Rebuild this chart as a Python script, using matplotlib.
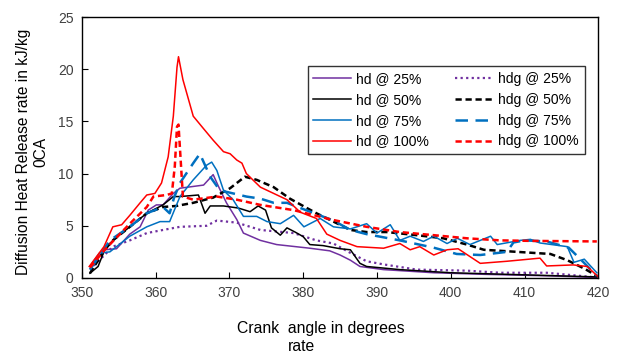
import numpy as np
import matplotlib
matplotlib.use("Agg")
import matplotlib.pyplot as plt

# values (crank angle, kJ/kg)
hd25_x = [351.1, 353.1, 354.7, 356.5, 357.9, 359.0, 360.1, 361.0, 362.4, 363.3, 366.5, 367.8, 368.5,
          369.6, 371.0, 371.9, 374.2, 376.4, 380.9, 383.6, 385.0, 386.4, 387.7, 390.9, 397.7, 404.5,
          413.5, 419.8]
hd25_y = [1.1, 2.7, 2.8, 4.2, 4.9, 6.5, 7.0, 7.0, 8.1, 8.6, 8.9, 9.9, 8.8,
          7.2, 5.6, 4.3, 3.6, 3.2, 2.85, 2.6, 2.2, 1.7, 1.1, 0.8, 0.5, 0.35,
          0.2, 0.05]

hdg25_x = [351.1, 354.2, 356.5, 358.8, 361.0, 363.3, 366.9, 368.3, 371.0, 374.2, 378.7, 381.8,
           384.1, 386.4, 388.6, 390.9, 395.4, 402.2, 406.7, 413.0, 419.8]
hdg25_y = [0.8, 3.0, 3.6, 4.3, 4.6, 4.9, 5.0, 5.5, 5.3, 4.6, 4.3, 3.6,
           3.3, 2.4, 1.6, 1.3, 0.8, 0.7, 0.5, 0.5, 0.05]

hd50_x = [351.1, 352.2, 353.1, 354.2, 356.5, 358.8, 361.0, 362.4, 363.3, 365.8, 366.7, 367.4,
          369.2, 371.2, 372.8, 373.9, 374.9, 375.7, 376.9, 377.8, 378.9, 380.0, 380.9, 382.7,
          385.0, 386.4, 387.7, 388.6, 393.1, 400.0, 410.0, 419.8]
hd50_y = [0.45, 1.1, 2.7, 3.6, 4.9, 6.2, 7.0, 7.8, 7.8, 7.95, 6.2, 6.9,
          6.9, 6.7, 6.35, 6.9, 6.5, 4.8, 4.1, 4.8, 4.4, 3.96, 3.2, 3.1,
          2.8, 2.7, 1.4, 1.1, 0.8, 0.5, 0.3, 0.1]

hdg50_x = [351.1, 353.1, 354.2, 356.5, 358.8, 361.0, 362.8, 365.1, 367.8, 370.1, 372.1, 373.7,
           376.0, 378.2, 380.5, 381.8, 384.1, 386.4, 388.6, 391.3, 395.4, 399.0, 402.2, 404.5,
           409.0, 413.5, 415.8, 418.1, 419.8]
hdg50_y = [0.45, 2.7, 3.6, 4.9, 6.2, 6.8, 6.9, 7.2, 7.7, 8.6, 9.7, 9.4,
           8.7, 7.6, 6.7, 6.2, 5.4, 4.6, 4.4, 4.4, 4.1, 3.8, 3.2, 2.7,
           2.5, 2.3, 1.7, 0.9, 0.2]

hd75_x = [351.1, 352.4, 353.8, 356.5, 358.8, 360.6, 361.9, 363.3, 365.1, 366.9, 367.6, 368.3,
          369.2, 370.5, 371.9, 373.7, 375.1, 376.9, 378.7, 380.1, 382.3, 384.1, 386.4, 388.6,
          390.0, 391.8, 393.1, 394.5, 396.3, 397.7, 399.5, 400.9, 402.6, 405.4, 406.3, 409.4,
          410.8, 412.1, 415.8, 416.7, 418.1, 419.8]
hd75_y = [1.1, 2.4, 2.5, 4.0, 4.9, 5.4, 5.4, 7.8, 9.4, 10.8, 11.1, 10.3,
          8.4, 7.5, 5.9, 5.9, 5.4, 5.2, 6.0, 4.9, 5.7, 4.9, 4.7, 5.2,
          4.3, 5.1, 3.6, 4.0, 3.5, 4.0, 3.3, 3.8, 3.2, 4.0, 3.2, 3.6,
          3.7, 3.35, 3.0, 1.5, 1.8, 0.5]

hdg75_x = [351.1, 353.8, 356.5, 358.8, 361.0, 361.9, 362.5, 363.3, 365.1, 366.0, 367.4, 368.7,
           370.5, 372.3, 374.2, 376.0, 377.8, 380.0, 384.1, 386.4, 388.6, 393.1, 397.7, 400.8,
           404.0, 407.6, 408.5, 410.0, 413.0, 416.0, 418.0, 419.8]
hdg75_y = [0.8, 3.6, 4.9, 6.2, 6.8, 6.2, 7.7, 9.1, 11.0, 11.9, 9.7, 8.4,
           8.1, 7.8, 7.6, 7.2, 7.2, 6.6, 5.5, 4.6, 4.2, 3.6, 2.9, 2.3,
           2.2, 2.5, 3.4, 3.6, 3.5, 2.9, 1.5, 0.2]

hd100_x = [351.0, 353.0, 354.2, 355.4, 356.5, 357.9, 358.8, 359.9, 360.8, 361.7, 362.4, 362.9,
           363.1, 363.7, 365.1, 366.5, 367.8, 369.2, 370.1, 371.0, 371.7, 372.3, 374.2, 376.0,
           377.8, 379.6, 381.8, 383.2, 385.0, 387.3, 390.9, 393.1, 394.5, 395.8, 397.7, 399.5,
           401.0, 404.0, 407.6, 412.1, 413.0, 416.6, 418.5, 420.0]
hd100_y = [1.1, 3.0, 4.9, 5.1, 6.0, 7.2, 7.95, 8.1, 9.1, 11.6, 15.5, 20.2,
           21.2, 19.0, 15.5, 14.3, 13.2, 12.1, 11.9, 11.3, 11.0, 10.0, 8.7, 8.1,
           7.5, 6.3, 5.7, 4.2, 3.6, 3.0, 2.85, 3.3, 2.7, 3.0, 2.2, 2.7,
           2.8, 1.4, 1.6, 1.9, 1.15, 1.25, 1.1, 0.1]

hdg100_x = [351.1, 353.1, 356.5, 358.8, 359.7, 361.5, 362.2, 362.6, 362.9, 363.1, 363.7, 365.1,
            368.3, 371.0, 374.2, 378.7, 384.1, 388.6, 393.1, 397.7, 402.2, 406.7, 411.2, 419.8]
hdg100_y = [1.0, 2.7, 5.2, 6.8, 7.8, 7.95, 8.1, 10.7, 14.5, 14.7, 7.8, 7.5,
            7.8, 7.5, 7.0, 6.5, 5.55, 4.9, 4.4, 4.1, 3.8, 3.6, 3.55, 3.5]

purple = "#7030A0"
blue = "#0070C0"
red = "#FF0000"

plt.rcParams['font.family'] = ['Liberation Sans', 'DejaVu Sans']

fig = plt.figure(figsize=(6.2, 3.55), dpi=100)
ax = fig.add_axes([0.132, 0.217, 0.833, 0.735])

ax.plot(hd25_x, hd25_y, color=purple, lw=1.1, label="hd @ 25%")
ax.plot(hdg25_x, hdg25_y, color=purple, lw=1.6, linestyle=(0, (1, 1.5)), label="hdg @ 25%")
ax.plot(hd50_x, hd50_y, color="black", lw=1.1, label="hd @ 50%")
ax.plot(hdg50_x, hdg50_y, color="black", lw=1.8, linestyle=(0, (2.5, 1.5)), label="hdg @ 50%")
ax.plot(hd75_x, hd75_y, color=blue, lw=1.1, label="hd @ 75%")
ax.plot(hdg75_x, hdg75_y, color=blue, lw=1.8, linestyle=(0, (5, 3)), label="hdg @ 75%")
ax.plot(hd100_x, hd100_y, color=red, lw=1.1, label="hd @ 100%")
ax.plot(hdg100_x, hdg100_y, color=red, lw=1.8, linestyle=(0, (2.5, 1.5)), label="hdg @ 100%")

ax.set_xlim(350, 420)
ax.set_ylim(0, 25)
ax.set_xticks(np.arange(350, 421, 10))
ax.set_yticks(np.arange(0, 26, 5))
ax.tick_params(direction="in", length=4, labelsize=10, colors="black", pad=6)
for t in ax.get_xticklabels() + ax.get_yticklabels():
    t.set_color("#404040")
for s in ax.spines.values():
    s.set_linewidth(1.0)

# axis titles sit off-centre in the original, so place them on the figure
fig.text(0.518, 0.076, "Crank  angle in degrees", fontsize=11.3, ha="center", va="center")
fig.text(0.487, 0.023, "rate", fontsize=11.3, ha="center", va="center")
fig.text(0.052, 0.573, "Diffusion Heat Release rate in kJ/kg\n0CA", fontsize=11.2,
         rotation=90, ha="center", va="center", multialignment="center", linespacing=1.15)

# legend: column order is hd on the left, hdg on the right
handles, labels = ax.get_legend_handles_labels()
order = [0, 2, 4, 6, 1, 3, 5, 7]
leg = ax.legend([handles[i] for i in order], [labels[i] for i in order], ncol=2,
                loc="upper left", bbox_to_anchor=(0.437, 0.812), borderaxespad=0,
                fontsize=10, frameon=True, fancybox=False, edgecolor="black",
                borderpad=0.4, labelspacing=0.5, handlelength=2.7,
                columnspacing=1.9, handletextpad=0.4)
leg.get_frame().set_linewidth(1.0)

fig.savefig("out.png", dpi=100)
